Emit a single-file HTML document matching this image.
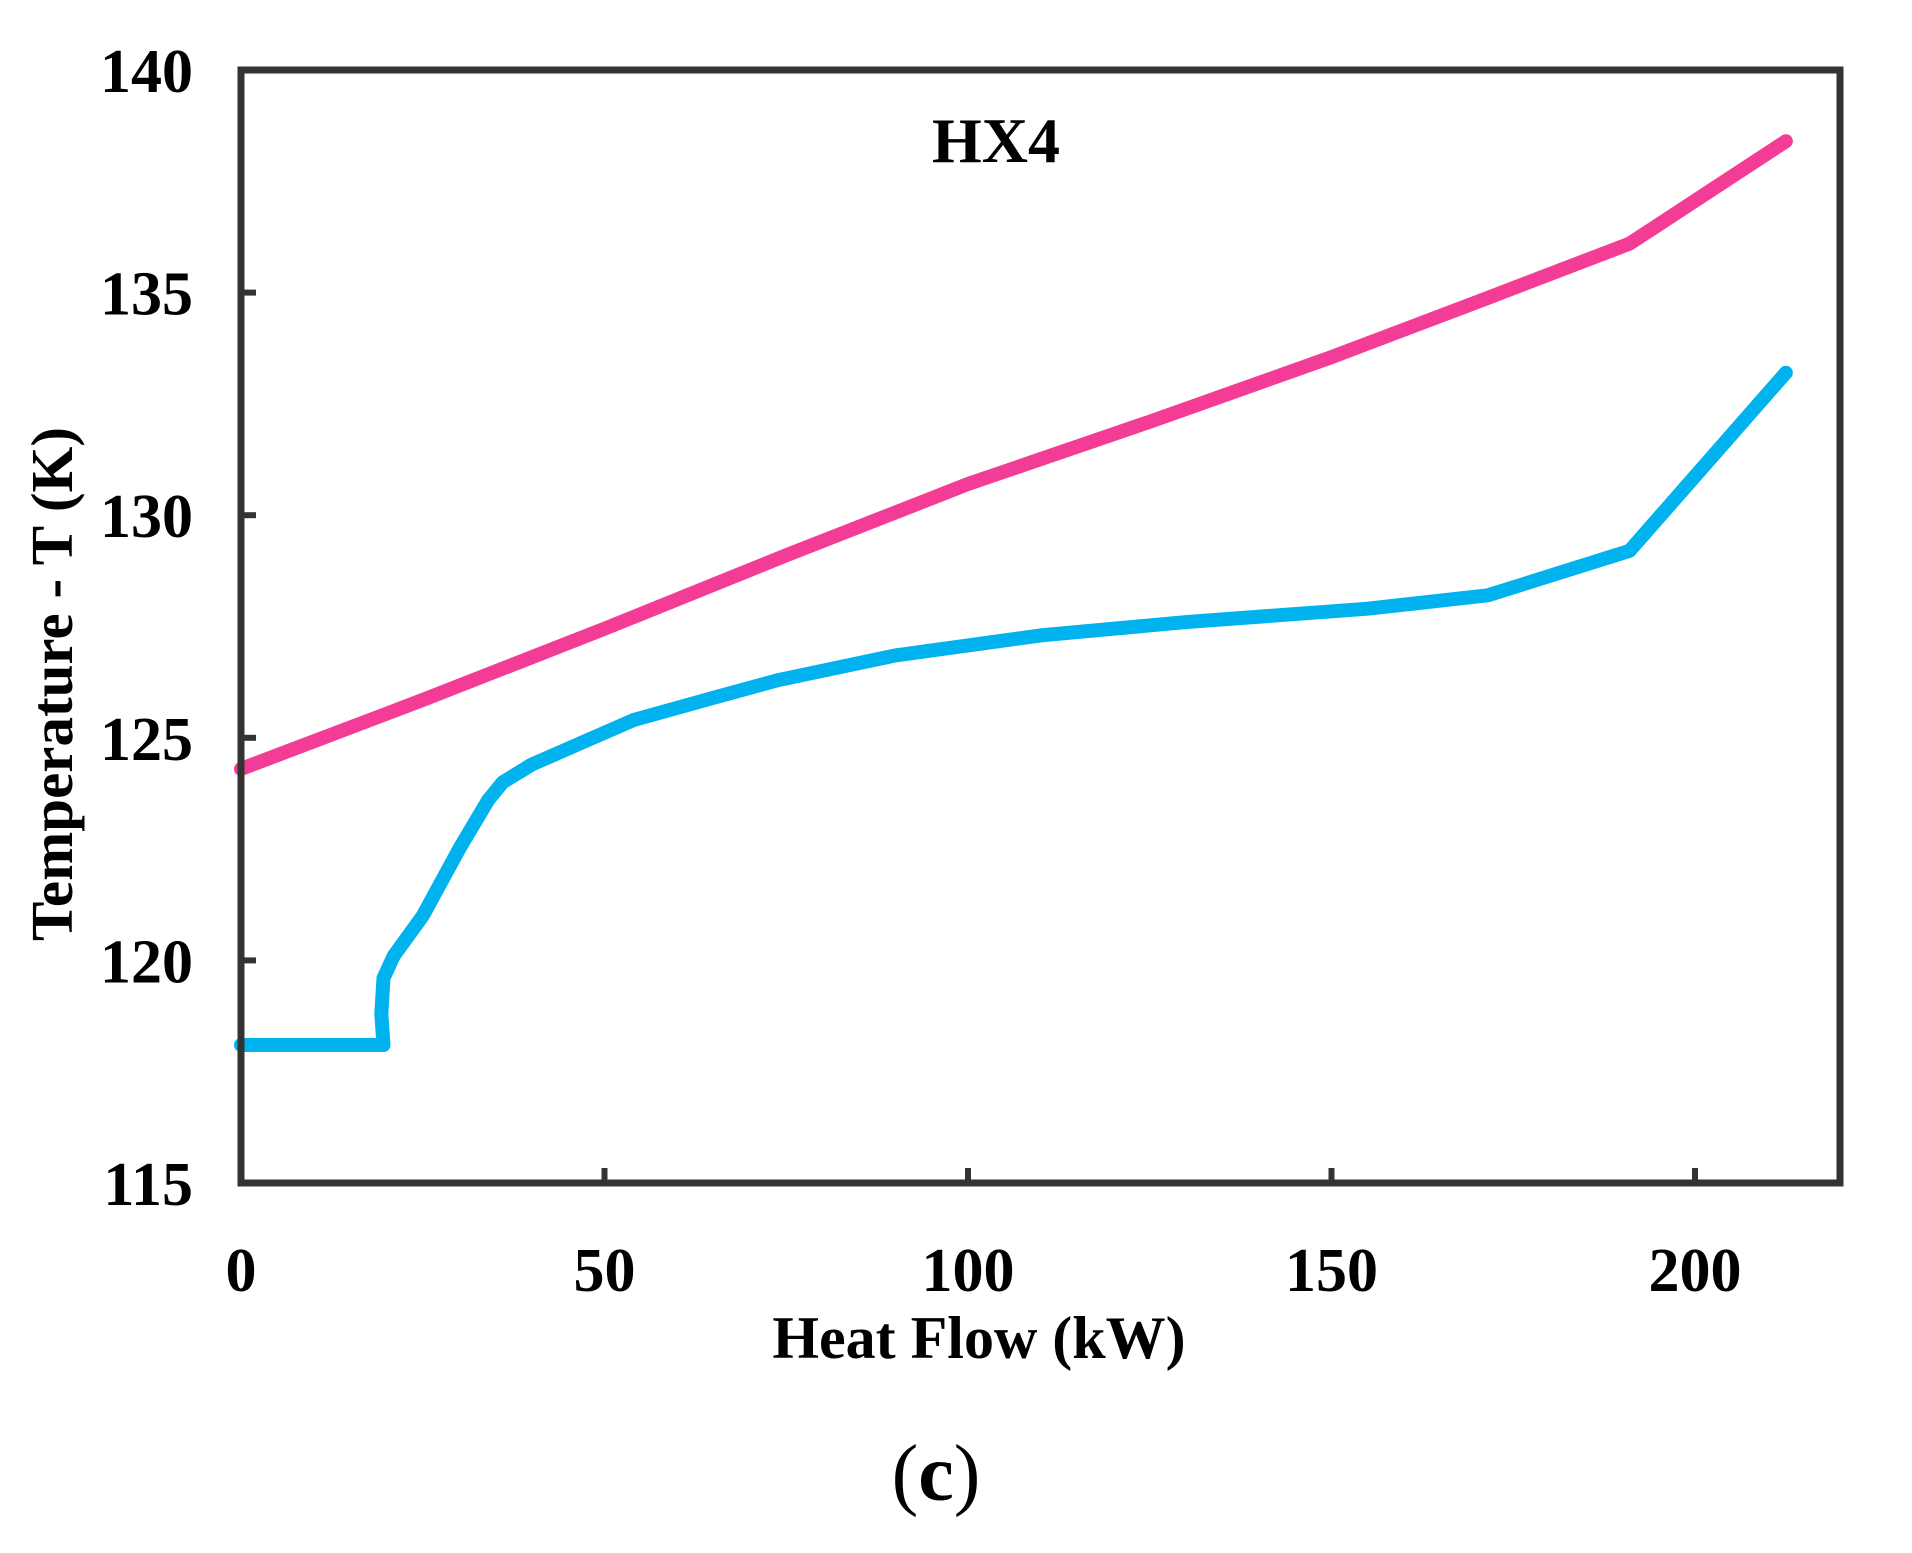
<!DOCTYPE html>
<html><head><meta charset="utf-8"><style>
html,body{margin:0;padding:0;background:#fff;}
svg text{font-family:"Liberation Serif",serif;font-weight:bold;fill:#000;}
</style></head><body>
<svg id="chart" width="1912" height="1548" viewBox="0 0 1912 1548" xmlns="http://www.w3.org/2000/svg">
<g id="series"></g>
<rect x="241" y="70" width="1599" height="1113" fill="none" stroke="#333" stroke-width="7"/>
<g id="ticks"></g>
<text x="996" y="162" font-size="64" text-anchor="middle">HX4</text>
<text x="979" y="1358" font-size="60" text-anchor="middle">Heat Flow (kW)</text>
<text transform="translate(72,684) rotate(-90)" font-size="59" text-anchor="middle">Temperature - T (K)</text>
<text x="936" y="1500" font-size="80" text-anchor="middle"><tspan font-weight="normal">(</tspan>c<tspan font-weight="normal">)</tspan></text>
</svg>
<script>
const xTicks=[0,50,100,150,200];
const yTicks=[115,120,125,130,135,140];
const hotX=[0,25,50,75,100,125,150,171,191,212.5];
const hotY=[124.3,125.85,127.45,129.1,130.7,132.1,133.55,134.85,136.1,138.4];
const coldX=[0,19.6,19.3,19.6,21,25,30,34,36,40,47,54,65,74,90,110,130,155,171.5,191,212.5];
const coldY=[118.1,118.1,118.8,119.6,120.1,121,122.5,123.6,124,124.4,124.9,125.4,125.9,126.3,126.85,127.3,127.6,127.9,128.2,129.2,133.2];
const X0=241,X200=1695,Y0=1183,Y1=70;
function sx(v){return X0+(X200-X0)*v/200;}
function sy(v){return Y0-(Y0-Y1)*(v-115)/25;}
const NS='http://www.w3.org/2000/svg';
const ticks=document.getElementById('ticks');
xTicks.forEach(v=>{
 const l=document.createElementNS(NS,'line');
 
 
 l.setAttribute('x1',sx(v));l.setAttribute('x2',sx(v));l.setAttribute('y1',Y0);l.setAttribute('y2',Y0-15);
 l.setAttribute('stroke','#333');l.setAttribute('stroke-width','6');
 ticks.appendChild(l);
 const t=document.createElementNS(NS,'text');
 
 
 t.setAttribute('x',sx(v));t.setAttribute('y',1291);t.setAttribute('font-size','62');t.setAttribute('text-anchor','middle');
 t.textContent=v;ticks.appendChild(t);
});
yTicks.forEach(v=>{
 const l=document.createElementNS(NS,'line');
 
 
 l.setAttribute('x1',X0);l.setAttribute('x2',X0+15);l.setAttribute('y1',sy(v));l.setAttribute('y2',sy(v));
 l.setAttribute('stroke','#333');l.setAttribute('stroke-width','6');
 ticks.appendChild(l);
 const t=document.createElementNS(NS,'text');
 
 
 t.setAttribute('x',193);t.setAttribute('y',sy(v)+22);t.setAttribute('font-size','62');t.setAttribute('text-anchor','end');
 t.textContent=v;ticks.appendChild(t);
});
const g=document.getElementById('series');
function line(xs,ys,color,name){
 const p=document.createElementNS(NS,'polyline');
 
 
 p.setAttribute('points',xs.map((x,i)=>sx(x)+','+sy(ys[i])).join(' '));
 p.setAttribute('fill','none');p.setAttribute('stroke',color);p.setAttribute('stroke-width','14');
 p.setAttribute('stroke-linejoin','round');p.setAttribute('stroke-linecap','round');
 g.appendChild(p);
}
line(hotX,hotY,'#f23c96','hot-stream-line');
line(coldX,coldY,'#00b2ee','cold-stream-line');
</script>
</body></html>
